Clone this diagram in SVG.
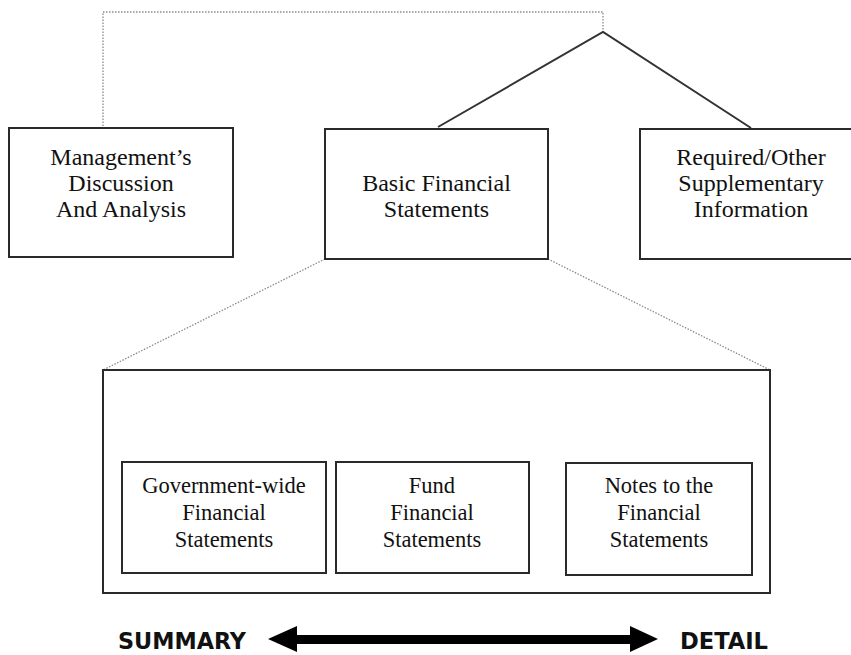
<svg xmlns="http://www.w3.org/2000/svg" width="851" height="655" viewBox="0 0 851 655">
<style>
.box{fill:#fff;stroke:#2a2a2a;stroke-width:2}
.t{font-family:"Liberation Serif","Times New Roman",serif;font-size:24px;fill:#111;text-anchor:middle}
.ts{font-size:22.5px}
.solid{fill:none;stroke:#333;stroke-width:2}
.dot{fill:none;stroke:#8a8a8a;stroke-width:1.3;stroke-dasharray:1.5 1.5}
.lbl{font-family:"DejaVu Sans Condensed","DejaVu Sans",sans-serif;font-weight:bold;font-size:23px;fill:#111}
</style>
<rect width="851" height="655" fill="#fff"/>
<g id="connectors">
<polyline class="dot" points="103,126 103,12 603,12 603,32"/>
<polyline class="solid" points="438,127 603,32 751,128"/>
<line class="dot" x1="325" y1="259" x2="103" y2="370"/>
<line class="dot" x1="548" y1="259" x2="770" y2="370"/>
<polyline class="dot" points="326,426 326,408 659,408 659,463"/>
<polyline class="solid" points="130,462 326,426 529,462"/>
</g>
<g id="mdna">
<rect class="box" x="9" y="128" width="224" height="129"/>
<text class="t" x="121" y="165">Management’s</text>
<text class="t" x="121" y="191">Discussion</text>
<text class="t" x="121" y="217">And Analysis</text>
</g>
<g id="basic">
<rect class="box" x="325" y="129" width="223" height="130"/>
<text class="t" x="436.5" y="191">Basic Financial</text>
<text class="t" x="436.5" y="217">Statements</text>
</g>
<g id="required">
<rect class="box" x="640" y="129" width="223" height="130"/>
<text class="t" x="751" y="165">Required/Other</text>
<text class="t" x="751" y="191">Supplementary</text>
<text class="t" x="751" y="217">Information</text>
</g>
<g id="container">
<rect class="box" x="103" y="370" width="667" height="223" fill="none"/>
</g>
<g id="govwide">
<rect class="box" x="122" y="462" width="204" height="111"/>
<text class="t ts" x="224" y="493">Government-wide</text>
<text class="t ts" x="224" y="520">Financial</text>
<text class="t ts" x="224" y="547">Statements</text>
</g>
<g id="fund">
<rect class="box" x="336" y="462" width="193" height="111"/>
<text class="t ts" x="432" y="493">Fund</text>
<text class="t ts" x="432" y="520">Financial</text>
<text class="t ts" x="432" y="547">Statements</text>
</g>
<g id="notes">
<rect class="box" x="566" y="463" width="186" height="112"/>
<text class="t ts" x="659" y="493">Notes to the</text>
<text class="t ts" x="659" y="520">Financial</text>
<text class="t ts" x="659" y="547">Statements</text>
</g>
<g id="scale">
<polygon fill="#000" points="268,639 297,626 297,635 630,635 630,626 658,639 630,652 630,644 297,644 297,652"/>
<text class="lbl" x="118" y="649" textLength="128" lengthAdjust="spacingAndGlyphs">SUMMARY</text>
<text class="lbl" x="680" y="649" textLength="88" lengthAdjust="spacingAndGlyphs">DETAIL</text>
</g>
</svg>
